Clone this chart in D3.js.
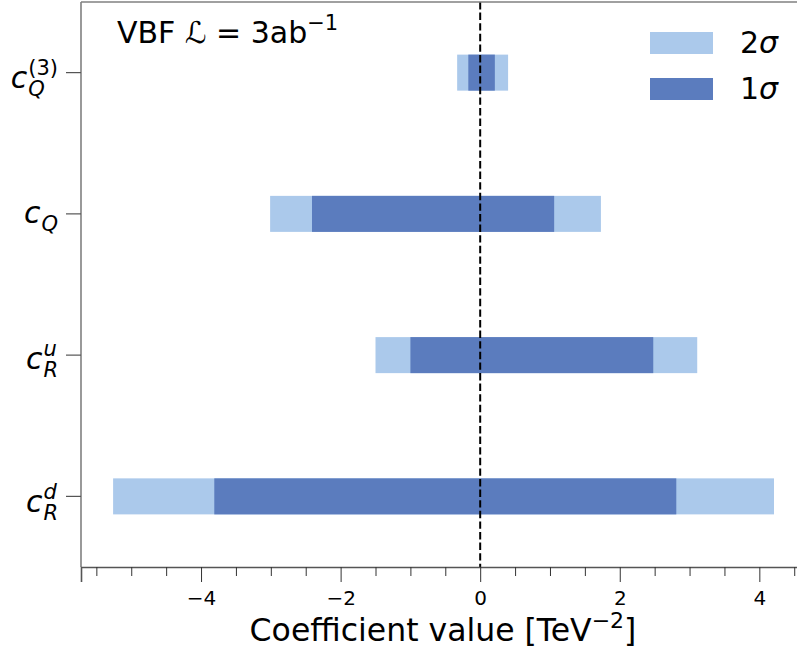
<!DOCTYPE html>
<html>
<head>
<meta charset="utf-8">
<script src="https://cdn.jsdelivr.net/npm/d3@7"></script>
<style>
  html, body { margin: 0; padding: 0; background: #fff; }
  svg { display: block; font-family: "DejaVu Sans", sans-serif; }
</style>
</head>
<body>
<svg id="chart" width="797" height="652"></svg>
<script>
// Wilson coefficients (top to bottom) and their label pieces
const categories = ["cQ3", "cQ", "cRu", "cRd"];
const labelSub = ["Q", "Q", "R", "R"];
const labelSup = ["(3)", "", "u", "d"];

// Confidence intervals [TeV^-2]
const lo2 = [-0.33, -3.01, -1.50, -5.26];
const hi2 = [0.40, 1.73, 3.11, 4.21];
const lo1 = [-0.17, -2.41, -1.00, -3.81];
const hi1 = [0.21, 1.06, 2.48, 2.81];

const majorTicks = [-4, -2, 0, 2, 4];
const minorTicks = [-5.5, -5, -4.5, -3.5, -3, -2.5, -1.5, -1, -0.5, 0.5, 1, 1.5, 2.5, 3, 3.5, 4.5];

const legendLabels = ["2", "1"];
const colors = { s2: "#abc9eb", s1: "#5b7cbe" };

const svg = d3.select("#chart");
const plotL = 81, plotR = 804, plotT = 2, plotB = 567;

const x = d3.scaleLinear().domain([-5.72, 4.64]).range([plotL, plotR]);
const y = d3.scaleBand().domain(categories).range([plotT, plotB]).padding(0);
const barH = y.bandwidth() * 0.255;
const yc = c => y(c) + y.bandwidth() / 2;

const rows = categories.map((c, i) => ({ c, lo2: lo2[i], hi2: hi2[i], lo1: lo1[i], hi1: hi1[i] }));

// 2 sigma bars
svg.append("g").selectAll("rect").data(rows).join("rect")
  .attr("x", d => x(d.lo2)).attr("width", d => x(d.hi2) - x(d.lo2))
  .attr("y", d => yc(d.c) - barH / 2).attr("height", barH)
  .attr("fill", colors.s2);

// 1 sigma bars
svg.append("g").selectAll("rect").data(rows).join("rect")
  .attr("x", d => x(d.lo1)).attr("width", d => x(d.hi1) - x(d.lo1))
  .attr("y", d => yc(d.c) - barH / 2).attr("height", barH)
  .attr("fill", colors.s1);

// zero reference line
svg.append("line")
  .attr("x1", x(0)).attr("x2", x(0)).attr("y1", plotT).attr("y2", plotB)
  .attr("stroke", "#000").attr("stroke-width", 2).attr("stroke-dasharray", "7.4,3.2");

// spines
svg.append("line").attr("x1", plotL).attr("x2", 797).attr("y1", plotT).attr("y2", plotT)
  .attr("stroke", "#808080").attr("stroke-width", 1.6);
svg.append("line").attr("x1", plotL).attr("x2", plotL).attr("y1", plotT).attr("y2", plotB)
  .attr("stroke", "#808080").attr("stroke-width", 1.6);

// x axis: major + minor ticks
const xMajor = d3.axisBottom(x).tickValues(majorTicks).tickSize(15).tickPadding(9)
  .tickFormat(d => d < 0 ? "\u2212" + Math.abs(d) : String(d));
const gx = svg.append("g").attr("transform", `translate(0,${plotB})`).call(xMajor);
gx.attr("font-size", 20).attr("font-family", "DejaVu Sans");
gx.select(".domain").attr("stroke", "#555").attr("stroke-width", 1.6);
gx.selectAll(".tick line").attr("stroke", "#333").attr("stroke-width", 1);
gx.selectAll(".tick text").attr("fill", "#000");

const xMinor = d3.axisBottom(x).tickValues(minorTicks).tickSize(9).tickFormat("");
const gxm = svg.append("g").attr("transform", `translate(0,${plotB})`).call(xMinor);
gxm.select(".domain").remove();
gxm.selectAll(".tick line").attr("stroke", "#333").attr("stroke-width", 1);

// x axis label
const xl = svg.append("text").attr("x", 443).attr("y", 641)
  .attr("text-anchor", "middle").attr("font-size", 31.5).attr("fill", "#000");
xl.append("tspan").text("Coefficient value [TeV");
xl.append("tspan").attr("font-size", 22).attr("dy", -13).text("\u22122");
xl.append("tspan").attr("dy", 13).text("]");

// y axis ticks
const gy = svg.append("g").attr("transform", `translate(${plotL},0)`)
  .call(d3.axisLeft(y).tickSize(15).tickFormat(""));
gy.select(".domain").remove();
gy.selectAll(".tick line").attr("stroke", "#555").attr("stroke-width", 1.2);

// y tick labels: italic c with stacked sub/superscript, one text element each
const fs = 30, fsS = 21, supRaise = 13, subDrop = 8, labelRight = 58;
categories.forEach((c, i) => {
  const txt = svg.append("text").attr("fill", "#000");
  txt.append("tspan").attr("x", 0).attr("y", 0)
    .attr("font-size", fs).attr("font-style", "italic").text("c");
  const cw = txt.node().getComputedTextLength();
  const sx = cw + 1;
  const sub = txt.append("tspan").attr("x", sx).attr("y", subDrop)
    .attr("font-size", fsS).attr("font-style", "italic").text(labelSub[i]);
  let w = sub.node().getComputedTextLength();
  let inkTop = 0.56 * fs;
  if (labelSup[i]) {
    const isParen = labelSup[i].startsWith("(");
    const sup = txt.append("tspan").attr("x", sx).attr("y", -supRaise)
      .attr("font-size", fsS).attr("font-style", isParen ? "normal" : "italic").text(labelSup[i]);
    w = Math.max(w, sup.node().getComputedTextLength());
    const asc = /[d(]/.test(labelSup[i]) ? 0.76 : 0.56;
    inkTop = supRaise + asc * fsS;
  }
  const total = sx + w;
  txt.attr("transform", `translate(${labelRight - total},${yc(c) + inkTop / 2 + 1})`);
});

// title
const t = svg.append("text").attr("x", 117).attr("y", 43).attr("font-size", 30).attr("fill", "#000");
t.append("tspan").text("VBF ");
t.append("tspan").attr("font-style", "italic").text("\u2112");
t.append("tspan").text(" = 3ab");
t.append("tspan").attr("font-size", 21).attr("dy", -13).text("\u22121");

// legend
const legY = [32, 78];
const legC = [colors.s2, colors.s1];
legendLabels.forEach((lab, i) => {
  svg.append("rect").attr("x", 650).attr("y", legY[i]).attr("width", 63).attr("height", 22)
    .attr("fill", legC[i]);
  const lt = svg.append("text").attr("x", 740).attr("y", legY[i] + 21).attr("font-size", 30);
  lt.append("tspan").text(lab);
  lt.append("tspan").attr("font-style", "italic").text("\u03c3");
});
</script>
</body>
</html>
